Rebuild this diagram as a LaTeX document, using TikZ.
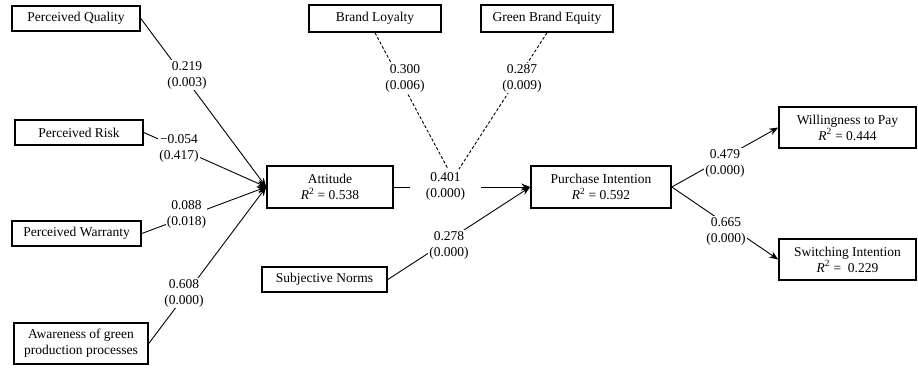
\documentclass[tikz,border=0pt]{standalone}
\usepackage{fontspec}
\setmainfont{Liberation Serif}
\usetikzlibrary{arrows.meta}
\newcommand\Rsq{\textit{R}\textsuperscript{2}}
\begin{document}
\begin{tikzpicture}[x=1pt,y=-1pt,
 font=\fontsize{13.5}{16}\selectfont,
 box/.style={draw, line width=1.6pt, inner sep=0pt, align=center, minimum height=25pt},
 box2/.style={box, minimum height=41pt},
 lbl/.style={fill=white, inner sep=1pt, align=center},
 conn/.style={line width=0.9pt},
 arr/.style={conn, -{Stealth[length=9pt,width=7pt]}},
 dsh/.style={conn, dash pattern=on 3pt off 2pt}]
\useasboundingbox (0,0) rectangle (918,368);
\node[box, minimum width=128pt] (pq) at (76,18.5) {Perceived Quality};
\node[box, minimum width=128pt] (pr) at (79,132.5) {Perceived Risk};
\node[box, minimum width=129pt] (pw) at (76.5,233.5) {Perceived Warranty};
\node[box2, minimum width=134pt] (aw) at (81,343.5) {Awareness of green\\production processes};
\node[box2, minimum width=126pt, minimum height=42pt] (att) at (330,187) {Attitude\\\Rsq{} = 0.538};
\node[box, minimum width=132pt, minimum height=27pt] (bl) at (375,18.5) {Brand Loyalty};
\node[box, minimum width=132pt, minimum height=27pt] (ge) at (547,18.5) {Green Brand Equity};
\node[box2, minimum width=140pt, minimum height=42pt] (pi) at (601,187) {Purchase Intention\\\Rsq{} = 0.592};
\node[box, minimum width=125pt] (sn) at (324.5,279.5) {Subjective Norms};
\node[box2, minimum width=137pt] (wtp) at (847.5,127.5) {Willingness to Pay\\\Rsq{} = 0.444};
\node[box2, minimum width=137pt] (si) at (847.5,259.5) {Switching Intention\\\Rsq{} =\ \ 0.229};
\coordinate (m1) at (448,169);
\coordinate (m2) at (459,169);
\draw[arr] (pq.east) -- (att.west);
\draw[arr] (pr.east) -- (att.west);
\draw[arr] (pw.east) -- (att.west);
\draw[arr] (aw.east) -- (att.west);
\draw[dsh] (bl.south) -- (m1);
\draw[dsh] (ge.south) -- (m2);
\draw[arr] (att.east) -- (pi.west);
\draw[arr] (sn.east) -- (pi.west);
\draw[arr] (pi.east) -- (wtp.west);
\draw[arr] (pi.east) -- (si.west);
\node[lbl] (l1) at (187,75) {0.219\\(0.003)};
\node[lbl] (l2) at (179,148.5) {−0.054\\(0.417)};
\node[lbl] (l3) at (186.5,214.5) {0.088\\(0.018)};
\node[lbl] (l4) at (184,293) {0.608\\(0.000)};
\node[lbl] (l5) at (405,78) {0.300\\(0.006)};
\node[lbl] (l6) at (522,78) {0.287\\(0.009)};
\node[lbl, inner xsep=16pt, inner ysep=0pt] (l7) at (445.5,186) {0.401\\(0.000)};
\node[lbl] (l8) at (449,245) {0.278\\(0.000)};
\node[lbl] (l9) at (725,163) {0.479\\(0.000)};
\node[lbl] (l10) at (726,231) {0.665\\(0.000)};
\end{tikzpicture}
\end{document}
